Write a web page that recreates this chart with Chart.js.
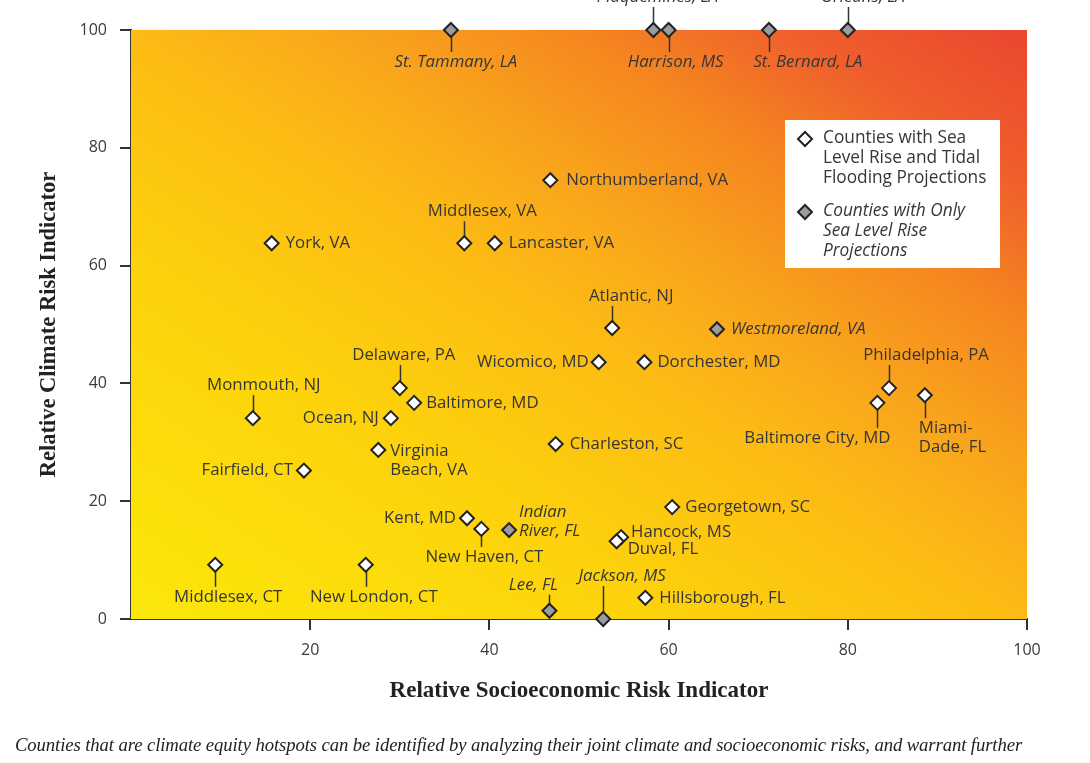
<!DOCTYPE html>
<html>
<head>
<meta charset="utf-8">
<script src="https://cdn.jsdelivr.net/npm/chart.js@4.4.1/dist/chart.umd.min.js"></script>
<style>
  html, body { margin: 0; padding: 0; background: #ffffff; }
  #wrap { position: relative; width: 1090px; height: 763px; overflow: hidden; }
  #caption { position: absolute; left: 15px; top: 734px; font-family: "Liberation Serif", serif; font-style: italic; font-size: 18.7px; color: #222; white-space: nowrap; letter-spacing: -0.1px; }
</style>
</head>
<body>
<div id="wrap">
  <canvas id="c" width="1090" height="763"></canvas>
  <div id="caption">Counties that are climate equity hotspots can be identified by analyzing their joint climate and socioeconomic risks, and warrant further</div>
</div>
<script>
// ---- DATA ----
const xTicks = [0, 20, 40, 60, 80, 100];
const yTicks = [0, 20, 40, 60, 80, 100];

const tidalNames = ["Middlesex, CT", "New London, CT", "Fairfield, CT", "Monmouth, NJ", "York, VA", "Middlesex, VA", "Lancaster, VA", "Northumberland, VA", "Delaware, PA", "Baltimore, MD", "Ocean, NJ", "Virginia\nBeach, VA", "Kent, MD", "New Haven, CT", "Charleston, SC", "Wicomico, MD", "Dorchester, MD", "Atlantic, NJ", "Georgetown, SC", "Hancock, MS", "Duval, FL", "Hillsborough, FL", "Baltimore City, MD", "Philadelphia, PA", "Miami-\nDade, FL"];
const tidalX = [9.4, 26.2, 19.3, 13.6, 15.7, 37.2, 40.6, 46.8, 30.0, 31.6, 29.0, 27.6, 37.5, 39.1, 47.4, 52.2, 57.3, 53.7, 60.4, 54.7, 54.2, 57.4, 83.3, 84.6, 88.6];
const tidalY = [9.2, 9.2, 25.2, 34.1, 63.8, 63.8, 63.8, 74.5, 39.2, 36.7, 34.1, 28.7, 17.1, 15.3, 29.7, 43.6, 43.6, 49.4, 19.0, 13.9, 13.2, 3.6, 36.7, 39.2, 38.0];

const slrNames = ["St. Tammany, LA", "Plaquemines, LA", "Harrison, MS", "St. Bernard, LA", "Orleans, LA", "Westmoreland, VA", "Indian\nRiver, FL", "Lee, FL", "Jackson, MS"];
const slrX = [35.7, 58.3, 60.0, 71.2, 80.0, 65.4, 42.2, 46.7, 52.7];
const slrY = [100, 100, 100, 100, 100, 49.2, 15.1, 1.4, 0];

const legendTidal = ["Counties with Sea", "Level Rise and Tidal", "Flooding Projections"];
const legendSlr = ["Counties with Only", "Sea Level Rise", "Projections"];

// ---- LABEL LAYOUT (pixel offsets from each marker) ----
const R = {a: 'left', dx: 14, dy: 0};
const LAYOUT = {
  "Middlesex, CT": {a: 'center', dx: 13, dy: 32, lead: 'down'},
  "New London, CT": {a: 'center', dx: 8, dy: 32, lead: 'down'},
  "Fairfield, CT": {a: 'right', dx: -11, dy: 0},
  "Monmouth, NJ": {a: 'center', dx: 11, dy: -33, lead: 'up'},
  "York, VA": R,
  "Middlesex, VA": {a: 'center', dx: 18, dy: -32, lead: 'up'},
  "Lancaster, VA": R,
  "Northumberland, VA": {a: 'left', dx: 16, dy: 0},
  "Delaware, PA": {a: 'center', dx: 4, dy: -33, lead: 'up'},
  "Baltimore, MD": {a: 'left', dx: 12, dy: 0},
  "Ocean, NJ": {a: 'right', dx: -12, dy: 0},
  "Virginia\nBeach, VA": {a: 'left', dx: 12, dy: 1},
  "Kent, MD": {a: 'right', dx: -11, dy: 0},
  "New Haven, CT": {a: 'center', dx: 3, dy: 28, lead: 'down'},
  "Charleston, SC": R,
  "Wicomico, MD": {a: 'right', dx: -10, dy: 0},
  "Dorchester, MD": {a: 'left', dx: 13, dy: 0},
  "Atlantic, NJ": {a: 'center', dx: 19, dy: -32, lead: 'up'},
  "Georgetown, SC": {a: 'left', dx: 13, dy: 0},
  "Hancock, MS": {a: 'left', dx: 10, dy: -5},
  "Duval, FL": {a: 'left', dx: 11, dy: 8},
  "Hillsborough, FL": R,
  "Baltimore City, MD": {a: 'center', dx: -60, dy: 35, lead: 'down'},
  "Philadelphia, PA": {a: 'center', dx: 37, dy: -33, lead: 'up'},
  "Miami-\nDade, FL": {a: 'left', dx: -6, dy: 33, lead: 'down'},
  "St. Tammany, LA": {a: 'center', dx: 5, dy: 32, lead: 'down'},
  "Plaquemines, LA": {a: 'center', dx: 4, dy: -33, lead: 'up'},
  "Harrison, MS": {a: 'center', dx: 7, dy: 32, lead: 'down'},
  "St. Bernard, LA": {a: 'center', dx: 39, dy: 32, lead: 'down'},
  "Orleans, LA": {a: 'center', dx: 15, dy: -33, lead: 'up'},
  "Westmoreland, VA": R,
  "Indian\nRiver, FL": {a: 'left', dx: 10, dy: -18},
  "Lee, FL": {a: 'center', dx: -16, dy: -26, lead: 'up'},
  "Jackson, MS": {a: 'center', dx: 19, dy: -43, lead: 'up'}
};

const LABEL_FONT = '16.8px "Open Sans", sans-serif';
const LABEL_FONT_IT = 'italic 16.8px "Open Sans", sans-serif';
const LEGEND_FONT = '17.3px "Open Sans", sans-serif';
const LEGEND_FONT_IT = 'italic 17.3px "Open Sans", sans-serif';
const TEXT = '#363636';
const LINE_H = 19;

function pts(xs, ys) { return xs.map((x, i) => ({x: x, y: ys[i]})); }

const bgPlugin = {
  id: 'bg',
  beforeDatasetsDraw(chart) {
    const {ctx, chartArea: a} = chart;
    ctx.save();
    ctx.translate(a.left, a.bottom);
    ctx.scale(a.right - a.left, -(a.bottom - a.top));
    const g = ctx.createLinearGradient(0, 0, 1, 1);
    g.addColorStop(0, '#fbe80a');
    g.addColorStop(0.3, '#fdd20c');
    g.addColorStop(0.5, '#fcbb14');
    g.addColorStop(0.62, '#f9a41c');
    g.addColorStop(0.75, '#f5861f');
    g.addColorStop(0.87, '#ef5e2c');
    g.addColorStop(1, '#e9472f');
    ctx.fillStyle = g;
    ctx.fillRect(0, 0, 1, 1);
    ctx.restore();
    ctx.save();
    // leader lines
    ctx.strokeStyle = '#333';
    ctx.lineWidth = 1.5;
    chart.data.datasets.forEach((ds, di) => {
      const meta = chart.getDatasetMeta(di);
      meta.data.forEach((p, i) => {
        const L = LAYOUT[ds.names[i]];
        if (!L || !L.lead) return;
        const px = Math.round(p.x) + 0.5;
        ctx.beginPath();
        if (L.lead === 'down') {
          ctx.moveTo(px, p.y);
          ctx.lineTo(px, p.y + L.dy - 10);
        } else {
          const n = ds.names[i].split('\n').length;
          ctx.moveTo(px, p.y);
          ctx.lineTo(px, p.y + L.dy + 10 + (n - 1) * LINE_H);
        }
        ctx.stroke();
      });
    });
    ctx.restore();
  },
  afterDatasetsDraw(chart) {
    const {ctx} = chart;
    ctx.save();
    ctx.fillStyle = TEXT;
    ctx.textBaseline = 'middle';
    chart.data.datasets.forEach((ds, di) => {
      const meta = chart.getDatasetMeta(di);
      ctx.font = ds.italic ? LABEL_FONT_IT : LABEL_FONT;
      meta.data.forEach((p, i) => {
        const name = ds.names[i];
        const L = LAYOUT[name] || R;
        ctx.textAlign = L.a;
        name.split('\n').forEach((line, k) => {
          ctx.fillText(line, p.x + L.dx, p.y + L.dy + k * LINE_H);
        });
      });
    });
    // legend box
    const bx = 785, by = 120, bw = 215, bh = 148;
    ctx.fillStyle = '#ffffff';
    ctx.fillRect(bx, by, bw, bh);
    const drawDiamond = (x, y, fill) => {
      ctx.beginPath();
      ctx.moveTo(x - 7, y); ctx.lineTo(x, y - 7); ctx.lineTo(x + 7, y); ctx.lineTo(x, y + 7);
      ctx.closePath();
      ctx.fillStyle = fill; ctx.fill();
      ctx.lineWidth = 2; ctx.strokeStyle = '#222'; ctx.stroke();
    };
    const ds0 = chart.data.datasets[0], ds1 = chart.data.datasets[1];
    drawDiamond(805, 139, ds0.backgroundColor);
    drawDiamond(805, 212, ds1.backgroundColor);
    ctx.fillStyle = TEXT;
    ctx.textAlign = 'left';
    ctx.font = LEGEND_FONT;
    legendTidal.forEach((t, k) => ctx.fillText(t, 823, 138 + k * 20));
    ctx.font = LEGEND_FONT_IT;
    legendSlr.forEach((t, k) => ctx.fillText(t, 823, 211 + k * 20));
    ctx.restore();
  }
};

const tickFont = {family: '"Open Sans", sans-serif', size: 16};
const titleFont = {family: '"Liberation Serif", serif', size: 22.5, weight: 'bold'};

new Chart(document.getElementById('c'), {
  type: 'scatter',
  data: {
    datasets: [
      {
        label: 'Counties with Sea Level Rise and Tidal Flooding Projections',
        names: tidalNames, italic: false,
        data: pts(tidalX, tidalY),
        pointStyle: 'rectRot', pointRadius: 7, pointHoverRadius: 7,
        backgroundColor: '#ffffff', borderColor: '#222222', borderWidth: 2,
        clip: false
      },
      {
        label: 'Counties with Only Sea Level Rise Projections',
        names: slrNames, italic: true,
        data: pts(slrX, slrY),
        pointStyle: 'rectRot', pointRadius: 7, pointHoverRadius: 7,
        backgroundColor: '#9a9c9f', borderColor: '#222222', borderWidth: 2,
        clip: false
      }
    ]
  },
  options: {
    responsive: false,
    animation: false,
    devicePixelRatio: 1,
    layout: {padding: {top: 30, right: 63, left: 0, bottom: 0}},
    plugins: {legend: {display: false}, tooltip: {enabled: false}},
    scales: {
      x: {
        type: 'linear', min: 0, max: 100,
        afterBuildTicks: (s) => { s.ticks = xTicks.map(v => ({value: v})); },
        afterFit: (s) => { s.height = 144; },
        ticks: {
          font: tickFont, color: '#3a3a3a', padding: 11,
          callback: (v) => v === 0 ? '' : String(v)
        },
        grid: {
          drawOnChartArea: false, drawTicks: true, tickLength: 11, lineWidth: 2,
          color: (c) => (c.tick && c.tick.value === 0) ? 'rgba(0,0,0,0)' : '#333'
        },
        border: {display: true, color: '#333', width: 2},
        title: {
          display: true, text: 'Relative Socioeconomic Risk Indicator', color: '#222',
          font: {family: '"Liberation Serif", serif', size: 23, weight: 'bold'},
          padding: {top: 0, bottom: 58}
        }
      },
      y: {
        type: 'linear', min: 0, max: 100,
        afterBuildTicks: (s) => { s.ticks = yTicks.map(v => ({value: v})); },
        afterFit: (s) => { s.width = 131; },
        ticks: {font: tickFont, color: '#3a3a3a', padding: 13},
        grid: {drawOnChartArea: false, drawTicks: true, tickLength: 11, lineWidth: 2, color: '#333'},
        border: {display: true, color: '#333', width: 2},
        title: {
          display: true, text: 'Relative Climate Risk Indicator', color: '#222',
          font: titleFont,
          padding: {top: 36, bottom: 0}
        }
      }
    }
  },
  plugins: [bgPlugin]
});
</script>
</body>
</html>
